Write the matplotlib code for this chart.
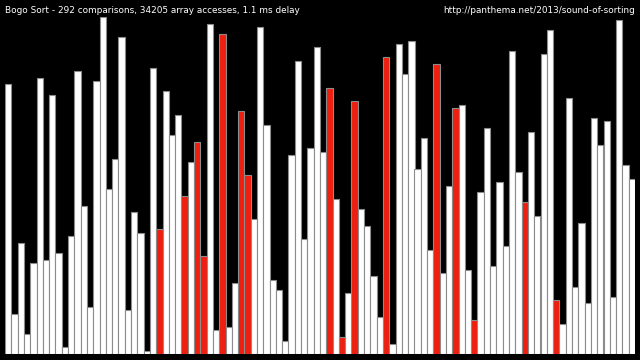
import matplotlib
matplotlib.use("Agg")
import matplotlib.pyplot as plt

values = [80, 12, 33, 6, 27, 82, 28, 77, 30, 2,
          35, 84, 44, 14, 81, 100, 49, 58, 94, 13,
          42, 36, 1, 85, 37, 78, 65, 71, 47, 57,
          63, 29, 98, 7, 95, 8, 21, 72, 53, 40,
          97, 68, 22, 19, 4, 59, 87, 34, 61, 91,
          60, 79, 46, 5, 18, 75, 43, 38, 23, 11,
          88, 3, 92, 83, 93, 55, 64, 31, 86, 24,
          50, 73, 74, 25, 10, 48, 67, 26, 51, 32,
          90, 54, 45, 66, 41, 89, 96, 16, 9, 76,
          20, 39, 15, 70, 62, 69, 17, 99, 56, 52]
highlighted = [25, 29, 31, 32, 35, 38, 39, 52, 54, 56, 61, 69, 72, 75, 83, 88]  # 1-based
title_left = "Bogo Sort - 292 comparisons, 34205 array accesses, 1.1 ms delay"
title_right = "http://panthema.net/2013/sound-of-sorting"

colors = ['#f01e0e' if (i + 1) in highlighted else '#ffffff' for i in range(len(values))]

fig = plt.figure(figsize=(6.4, 3.6), dpi=100, facecolor='black')
ax = fig.add_axes([5 / 640, 6 / 360, 630 / 640, 337 / 360])
ax.set_facecolor('black')
ax.bar(range(len(values)), values, width=1.0, color=colors,
       edgecolor='#8c8c8c', linewidth=0.8)
ax.set_xlim(-0.5, len(values) - 0.5)
ax.set_ylim(0, 100)
ax.axis('off')

fig.text(5 / 640, 1 - 13 / 360, title_left, color='white', fontsize=6.4,
         ha='left', va='baseline', family='DejaVu Sans')
fig.text(635 / 640, 1 - 13 / 360, title_right, color='white', fontsize=6.4,
         ha='right', va='baseline', family='DejaVu Sans')

fig.savefig('out.png', dpi=100, facecolor='black')
